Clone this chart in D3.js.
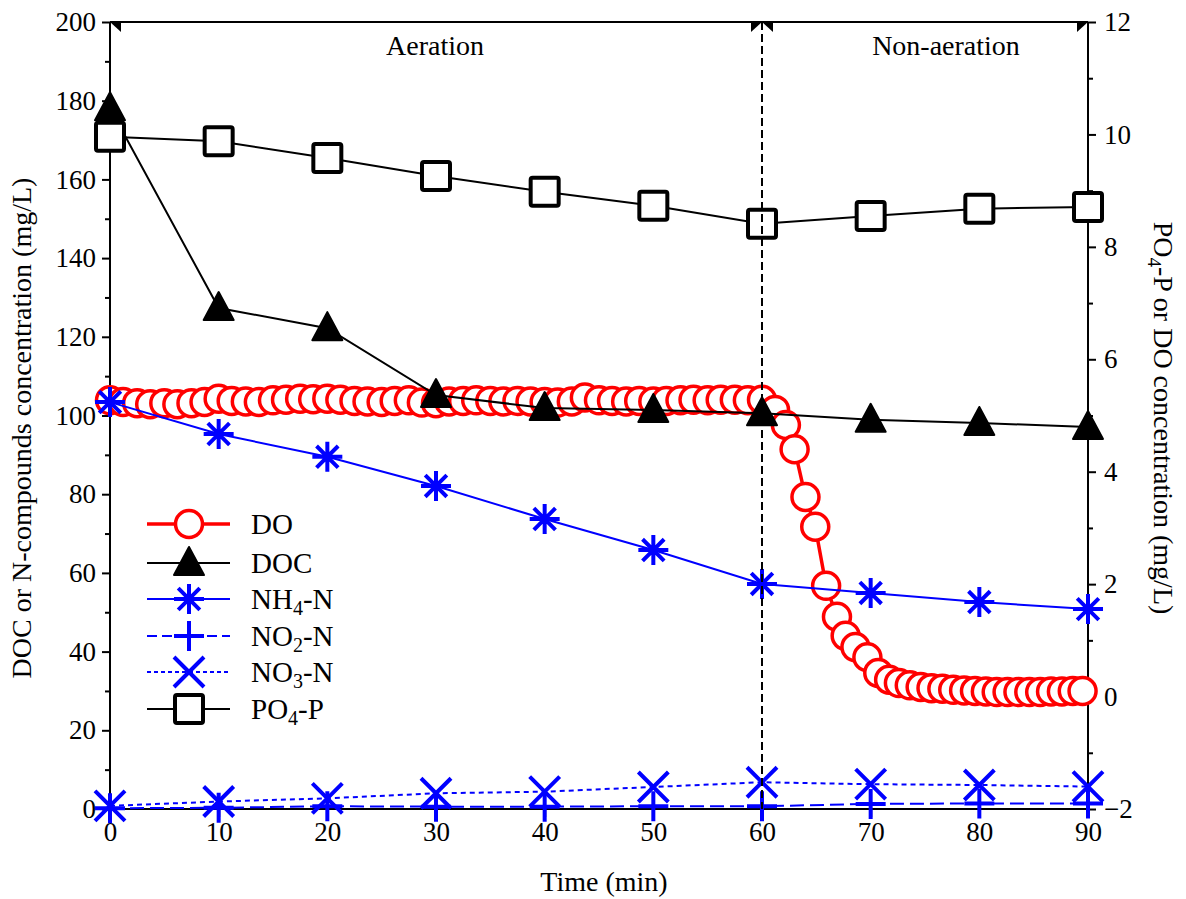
<!DOCTYPE html>
<html><head><meta charset="utf-8">
<script src="https://cdn.jsdelivr.net/npm/d3@7"></script>
<style>body{margin:0;background:#fff}svg{display:block}svg text{font-family:"Liberation Serif","Times New Roman",Times,"DejaVu Serif",serif !important;fill:#000}</style>
</head><body><svg id="c" width="1186" height="899" font-family="Liberation Serif, serif"></svg>
<script>
const times = [0,10,20,30,40,50,60,70,80,90];
const docVals = [178.1,127.3,122.2,105.2,101.9,101.4,100.6,98.9,98.1,97.1];
const nh4Vals = [103.4,95.3,89.5,82.1,73.7,65.8,57.2,54.9,52.6,50.8];
const no2Vals = [0.2,0.3,0.7,0.6,0.6,0.7,0.7,1.3,1.4,1.4];
const no3Vals = [0.8,1.9,2.7,4.0,4.4,5.6,6.8,6.3,6.1,5.7];
const po4Vals = [9.96,9.88,9.58,9.26,8.98,8.73,8.41,8.55,8.68,8.71];
const doTimes = [0,1.2,2.5,3.7,5,6.2,7.5,8.7,10,11.2,12.5,13.7,15,16.2,17.5,18.7,20,21.2,22.5,23.7,25,26.2,27.5,28.7,30,31.2,32.5,33.7,35,36.2,37.5,38.7,40,41.2,42.5,43.7,45,46.2,47.5,48.7,50,51.2,52.5,53.7,55,56.2,57.5,58.7,60,
  61.2,62.2,63,64,64.9,65.9,66.9,67.7,68.6,69.7,70.7,71.7,72.6,73.6,74.6,75.6,76.6,77.6,78.6,79.6,80.6,81.6,82.6,83.6,84.6,85.6,86.6,87.6,88.6,89.5];
const doVals = [5.27,5.24,5.22,5.2,5.22,5.2,5.22,5.24,5.3,5.26,5.25,5.24,5.27,5.28,5.3,5.29,5.3,5.28,5.26,5.25,5.24,5.26,5.27,5.23,5.22,5.25,5.26,5.27,5.26,5.25,5.26,5.25,5.24,5.23,5.25,5.32,5.27,5.26,5.25,5.26,5.25,5.26,5.27,5.28,5.27,5.28,5.28,5.27,5.28,
  5.1,4.83,4.4,3.55,3.02,1.97,1.42,1.08,0.88,0.7,0.42,0.3,0.24,0.2,0.17,0.15,0.14,0.12,0.11,0.1,0.09,0.08,0.08,0.08,0.08,0.08,0.09,0.09,0.1,0.1];
const xTicks = [0,10,20,30,40,50,60,70,80,90];
const yLeftTicks = [0,20,40,60,80,100,120,140,160,180,200];
const yRightTicks = [-2,0,2,4,6,8,10,12];

const svg = d3.select("#c");
const x = d3.scaleLinear([0,90],[110,1088]);
const yL = d3.scaleLinear([0,200],[809,22]);
const yR = d3.scaleLinear([-2,12],[809,22]);
const blue = "#0000ff", red = "#ff0000";
const FF = "Liberation Serif, serif";

// axes
const fs = 27;
const gx = svg.append("g").attr("transform","translate(0,809)")
  .call(d3.axisBottom(x).tickValues(xTicks).tickSize(8).tickPadding(5).tickFormat(d3.format("d")));
const gl = svg.append("g").attr("transform","translate(110,0)")
  .call(d3.axisLeft(yL).tickValues(yLeftTicks).tickSize(8).tickPadding(6).tickFormat(d3.format("d")));
svg.append("g").attr("transform","translate(110,0)")
  .call(d3.axisLeft(yL).tickValues(d3.range(10,200,20)).tickSize(5).tickFormat(""));
const gr = svg.append("g").attr("transform","translate(1088,0)")
  .call(d3.axisRight(yR).tickValues(yRightTicks).tickSize(8).tickPadding(8).tickFormat(d3.format("d")));
svg.append("g").attr("transform","translate(1088,0)")
  .call(d3.axisRight(yR).tickValues(d3.range(-1,12,2)).tickSize(5).tickFormat(""));
svg.selectAll("g").attr("font-family",FF);
svg.selectAll(".tick line").attr("stroke","#000").attr("stroke-width",2);
svg.selectAll(".tick text").attr("font-size",fs).attr("font-family",FF).attr("fill","#000");
gx.select(".domain").attr("d","M110,0H1088").attr("stroke","#000").attr("stroke-width",2);
gl.select(".domain").attr("d","M0,22V809").attr("stroke","#000").attr("stroke-width",2);
gr.select(".domain").attr("d","M0,22V809").attr("stroke","#000").attr("stroke-width",2);
svg.selectAll(".domain").filter(function(){return !this.getAttribute("stroke-width");}).remove();

// top line with half-arrowheads
svg.append("line").attr("x1",x(0)).attr("x2",x(90)).attr("y1",22).attr("y2",22).attr("stroke","#000").attr("stroke-width",2);
const ah = 11, av = 10;
[[x(0),1],[x(60),-1],[x(60),1],[x(90),-1]].forEach(([px,dir])=>{
  svg.append("path").attr("d",`M${px},22L${px+dir*ah},22L${px+dir*ah},${22+av}Z`).attr("fill","#000");
});
function txt(sel){ return sel.append("text").attr("font-family",FF); }
txt(svg).attr("x",435).attr("y",55).attr("text-anchor","middle").attr("font-size",28).text("Aeration");
txt(svg).attr("x",946).attr("y",55).attr("text-anchor","middle").attr("font-size",28).text("Non-aeration");

// axis titles
txt(svg).attr("x",604).attr("y",891).attr("text-anchor","middle").attr("font-size",28).text("Time (min)");
txt(svg).attr("transform","translate(31,428) rotate(-90)").attr("text-anchor","middle").attr("font-size",28)
  .text("DOC or N-compounds concentration (mg/L)");
const rt = txt(svg).attr("transform","translate(1154,418) rotate(90)").attr("text-anchor","middle").attr("font-size",28);
rt.append("tspan").text("PO");
rt.append("tspan").attr("font-size",19).attr("dy",6).text("4");
rt.append("tspan").attr("dy",-6).text("-P or DO concentration (mg/L)");

// marker drawers
function circleM(g,cx,cy){ g.append("circle").attr("cx",cx).attr("cy",cy).attr("r",13.5).attr("fill","#fff").attr("stroke",red).attr("stroke-width",3.5); }
function triM(g,cx,cy){ g.append("path").attr("d",`M${cx},${cy-16}L${cx+15},${cy+12}L${cx-15},${cy+12}Z`).attr("fill","#000").attr("stroke","#000").attr("stroke-width",2).attr("stroke-linejoin","round"); }
function starM(g,cx,cy){ const r=15,d=r*0.72;
  g.append("path").attr("d",`M${cx-r},${cy}H${cx+r}M${cx},${cy-r}V${cy+r}M${cx-d},${cy-d}L${cx+d},${cy+d}M${cx-d},${cy+d}L${cx+d},${cy-d}`)
   .attr("stroke",blue).attr("stroke-width",4).attr("fill","none"); }
function plusM(g,cx,cy){ const r=15;
  g.append("path").attr("d",`M${cx-r},${cy}H${cx+r}M${cx},${cy-r}V${cy+r}`).attr("stroke",blue).attr("stroke-width",4).attr("fill","none"); }
function xM(g,cx,cy){ const r=15;
  g.append("path").attr("d",`M${cx-r},${cy-r}L${cx+r},${cy+r}M${cx-r},${cy+r}L${cx+r},${cy-r}`).attr("stroke",blue).attr("stroke-width",4).attr("fill","none"); }
function sqM(g,cx,cy){ g.append("rect").attr("x",cx-14).attr("y",cy-14).attr("width",28).attr("height",28).attr("rx",2)
  .attr("fill","#fff").attr("stroke","#000").attr("stroke-width",4); }

const line = (ys)=> d3.line().x(d=>x(d[0])).y(d=>ys(d[1]));
const series = [
  {t:doTimes, v:doVals, s:yR, color:red, w:3.5, dash:null, m:circleM},
  {t:times, v:docVals, s:yL, color:"#000", w:2, dash:null, m:triM},
  {t:times, v:nh4Vals, s:yL, color:blue, w:2, dash:null, m:starM},
  {t:times, v:no2Vals, s:yL, color:blue, w:2, dash:"14,6", m:plusM},
  {t:times, v:no3Vals, s:yL, color:blue, w:2, dash:"5,4", m:xM},
  {t:times, v:po4Vals, s:yR, color:"#000", w:2, dash:null, m:sqM},
];
series.forEach(sr=>{
  const g = svg.append("g");
  const pts = sr.t.map((t,i)=>[t,sr.v[i]]);
  g.append("path").attr("d",line(sr.s)(pts)).attr("fill","none").attr("stroke",sr.color).attr("stroke-width",sr.w)
    .attr("stroke-dasharray",sr.dash);
  pts.forEach(p=>sr.m(g,x(p[0]),sr.s(p[1])));
});

// vertical dashed line at 60
svg.append("line").attr("x1",x(60)).attr("x2",x(60)).attr("y1",22).attr("y2",809).attr("stroke","#000").attr("stroke-width",2).attr("stroke-dasharray","8,4");

// legend
const legend = [
  {lab:["DO"], color:red, w:3.5, dash:null, m:circleM, y:524},
  {lab:["DOC"], color:"#000", w:2, dash:null, m:triM, y:563},
  {lab:["NH","4","-N"], color:blue, w:2, dash:null, m:starM, y:599},
  {lab:["NO","2","-N"], color:blue, w:2, dash:"10,5", m:plusM, y:636},
  {lab:["NO","3","-N"], color:blue, w:2, dash:"4,3", m:xM, y:672},
  {lab:["PO","4","-P"], color:"#000", w:2, dash:null, m:sqM, y:709},
];
legend.forEach(L=>{
  const g = svg.append("g");
  g.append("line").attr("x1",147).attr("x2",230).attr("y1",L.y).attr("y2",L.y).attr("stroke",L.color).attr("stroke-width",L.w).attr("stroke-dasharray",L.dash);
  L.m(g,189,L.y);
  const t = txt(g).attr("x",251).attr("y",L.y+10).attr("font-size",29);
  t.append("tspan").text(L.lab[0]);
  if(L.lab.length>1){ t.append("tspan").attr("font-size",20).attr("dy",6).text(L.lab[1]); t.append("tspan").attr("dy",-6).text(L.lab[2]); }
});
</script></body></html>
